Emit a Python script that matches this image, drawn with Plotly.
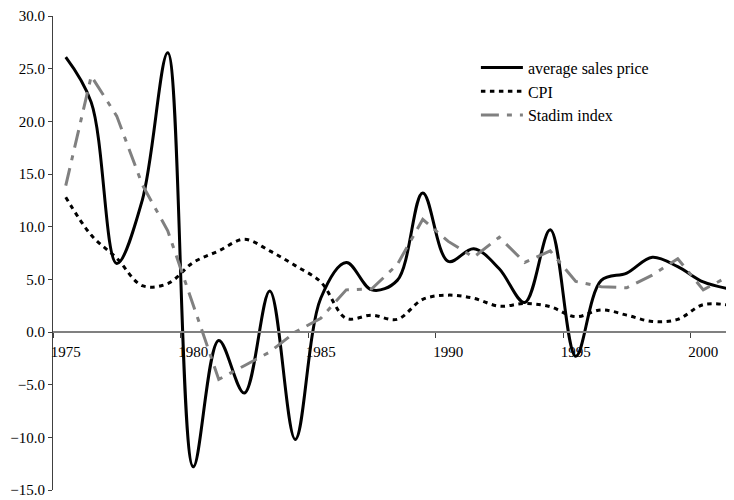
import plotly.graph_objects as go

years = list(range(1975, 2002))
sales = [26.1, 21.8, 6.5, 12.5, 26.5, -12.8, -0.8, -5.8, 3.9, -10.2, 3.2, 6.6, 4.0, 4.9,
         13.2, 6.7, 7.9, 6.0, 2.8, 9.7, -2.3, 4.9, 5.6, 7.1, 6.2, 4.75, 4.1]
cpi = [12.8, 9.2, 7.0, 4.4, 4.6, 6.6, 7.7, 8.8, 7.7, 6.3, 4.75, 1.3, 1.6, 1.2, 3.1, 3.5,
       3.2, 2.45, 2.7, 2.4, 1.45, 2.1, 1.6, 1.0, 1.2, 2.6, 2.55]
stadim = [13.9, 24.3, 20.5, 14.0, 9.6, 2.6, -4.5, -3.2, -1.9, 0.0, 1.3, 4.0, 4.1, 6.4, 10.7,
          8.6, 7.1, 9.0, 6.6, 7.7, 4.8, 4.3, 4.2, 5.4, 6.95, 4.0, 5.3]
label_years = [1975, 1980, 1985, 1990, 1995, 2000]
y_ticks = [-15, -10, -5, 0, 5, 10, 15, 20, 25, 30]

FONT = "Liberation Serif, Times New Roman, serif"

fig = go.Figure()
fig.add_trace(go.Scatter(x=years, y=sales, mode="lines", name="average sales price",
                         line=dict(color="black", width=3, shape="spline", smoothing=1)))
fig.add_trace(go.Scatter(x=years, y=cpi, mode="lines", name="CPI",
                         line=dict(color="black", width=3, dash="4.5px,4.5px",
                                   shape="spline", smoothing=1)))
fig.add_trace(go.Scatter(x=years, y=stadim, mode="lines", name="Stadim index",
                         line=dict(color="#808080", width=3, dash="18px,8px,5px,8px")))

# page body has an 8px margin, so the figure is sized/offset to compensate
fig.update_layout(
    width=726, height=492,
    margin=dict(l=45, r=0, t=6, b=10),
    plot_bgcolor="white", paper_bgcolor="white",
    font=dict(family=FONT, color="black", size=15),
    showlegend=True,
    legend=dict(x=0.621, y=0.927, xanchor="left", yanchor="top",
                font=dict(family=FONT, size=16, color="black"),
                itemwidth=42,
                bgcolor="rgba(0,0,0,0)", tracegroupgap=0),
    xaxis=dict(range=[1974.5, 1974.5 + 681 / 25.5], anchor="free", position=1 / 3,
               showline=True, linecolor="#808080", linewidth=2,
               tickvals=label_years, ticktext=[str(v) for v in label_years],
               ticks="outside", ticklen=6, tickcolor="rgba(0,0,0,0)",
               minor=dict(tickvals=[v - 0.5 for v in label_years], ticks="outside",
                          ticklen=5, tickcolor="#404040", tickwidth=1),
               showgrid=False, zeroline=False, ticklabeloverflow="allow",
               tickfont=dict(family=FONT, size=15, color="black")),
    yaxis=dict(range=[-15, 30], tickvals=y_ticks, tickformat=".1f",
               showline=True, linecolor="#404040", linewidth=1,
               ticks="outside", ticklen=4, tickcolor="#404040",
               showgrid=False, zeroline=False, ticklabeloverflow="allow",
               tickfont=dict(family=FONT, size=15, color="black")),
)

fig.write_html("out.html")
